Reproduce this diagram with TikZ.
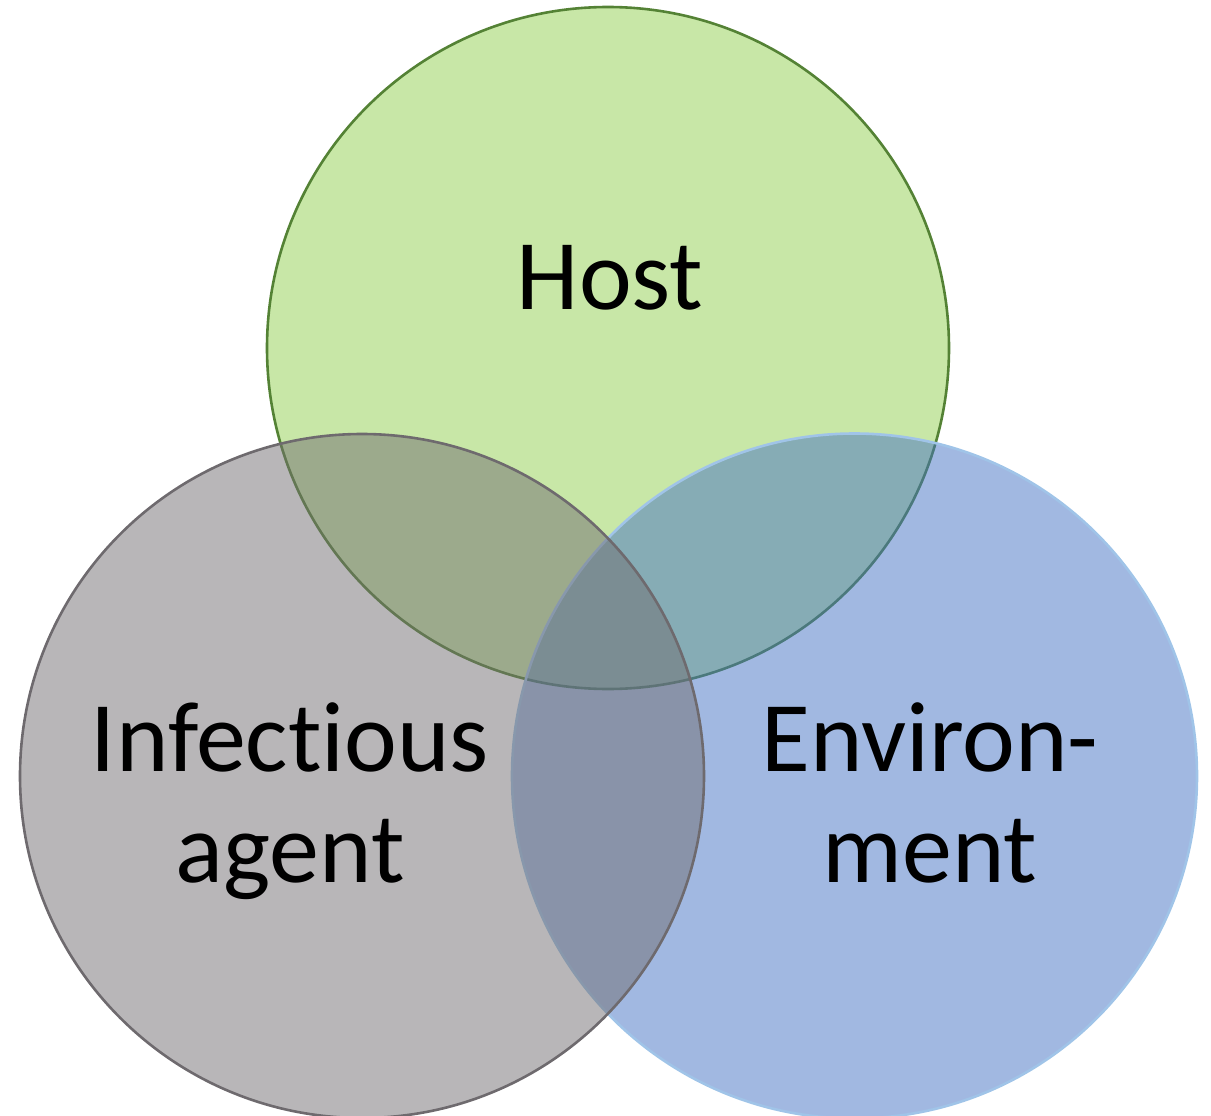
\documentclass[tikz,border=0pt]{standalone}
\usepackage{fontspec}
\setmainfont[Ligatures={NoCommon,NoContextual}]{Carlito}
\definecolor{hostfill}{RGB}{146,208,80}
\definecolor{hostline}{RGB}{84,130,53}
\definecolor{envfill}{RGB}{68,114,196}
\definecolor{envline}{RGB}{160,196,232}
\definecolor{agentfill}{RGB}{114,110,114}
\definecolor{agentline}{RGB}{110,106,110}
\tikzset{
  venn/.style={circle, inner sep=0pt, minimum size=684pt, line width=2.6pt, fill opacity=0.5, draw opacity=1},
  label/.style={align=center, font=\fontsize{100}{111}\selectfont, text=black, inner sep=0pt}
}
\begin{document}
\begin{tikzpicture}[x=1pt, y=-1pt]
\useasboundingbox (0,0) rectangle (1211,1116);
\node[venn, fill=hostfill, draw=hostline, minimum size=682pt] (host) at (608,348) {};
\node[venn, fill=envfill, draw=envline, minimum size=685pt] (env) at (854.5,776) {};
\node[venn, fill=agentfill, draw=agentline] (agent) at (362,776) {};
\node[label, anchor=base] (hostlbl) at (610,309) {Host};
\node[label, anchor=base] (agentlbl) at (290,882) {Infectious\\agent};
\node[label, anchor=base] (envlbl) at (930,882) {Environ-\\ment};
\end{tikzpicture}
\end{document}
